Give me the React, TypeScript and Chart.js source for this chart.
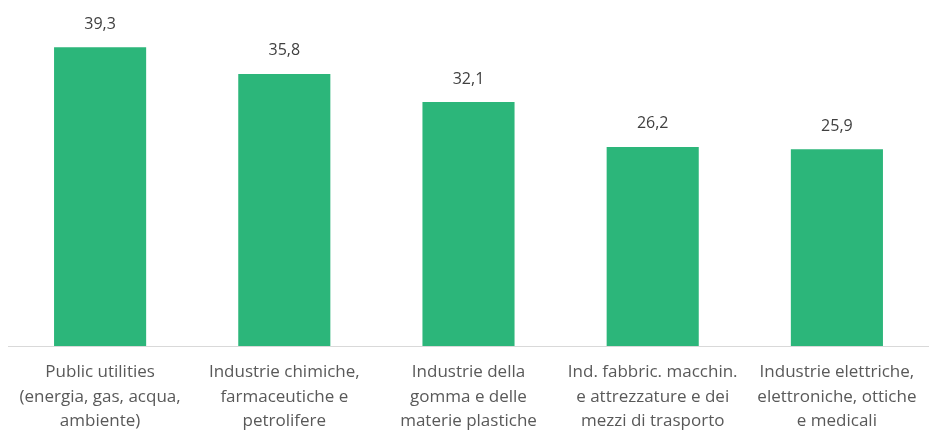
import React, { useEffect, useRef } from "react";
import { Chart, registerables } from "chart.js";

Chart.register(...registerables);

const categories: string[][] = [
  ["Public utilities", "(energia, gas, acqua,", "ambiente)"],
  ["Industrie chimiche,", "farmaceutiche e", "petrolifere"],
  ["Industrie della", "gomma e delle", "materie plastiche"],
  ["Ind. fabbric. macchin.", "e attrezzature e dei", "mezzi di trasporto"],
  ["Industrie elettriche,", "elettroniche, ottiche", "e medicali"],
];
const values: number[] = [39.3, 35.8, 32.1, 26.2, 25.9];

const FONT = "'Open Sans', 'DejaVu Sans', sans-serif";

const labelPlugin = {
  id: "barLabels",
  afterDatasetsDraw(chart: any) {
    const ctx = chart.ctx;
    const meta = chart.getDatasetMeta(0);
    ctx.save();
    ctx.font = `16px ${FONT}`;
    ctx.fillStyle = "#404040";
    ctx.textAlign = "center";
    ctx.textBaseline = "middle";
    meta.data.forEach((el: any, i: number) => {
      const txt = values[i].toFixed(1).replace(".", ",");
      ctx.fillText(txt, el.x, el.y - 23);
    });
    ctx.restore();
  },
};

export default function App() {
  const ref = useRef<HTMLCanvasElement | null>(null);
  useEffect(() => {
    document.body.style.margin = "0";
    const chart = new Chart(ref.current!, {
      type: "bar",
      data: {
        labels: categories,
        datasets: [
          {
            data: values,
            backgroundColor: "#2CB67A",
            categoryPercentage: 1,
            barPercentage: 0.5,
          },
        ],
      },
      options: {
        animation: false,
        responsive: false,
        maintainAspectRatio: false,
        layout: { padding: { left: 8, right: 0, top: 4, bottom: 0 } },
        plugins: { legend: { display: false }, tooltip: { enabled: false } },
        scales: {
          x: {
            grid: { display: false },
            border: { display: true, color: "#d9d9d9", width: 1 },
            ticks: {
              autoSkip: false,
              maxRotation: 0,
              minRotation: 0,
              color: "#595959",
              padding: 6,
              font: { family: FONT, size: 17, lineHeight: 1.44 },
            },
            afterFit: (scale: any) => {
              scale.height = 88;
            },
          },
          y: {
            display: false,
            min: 0,
            max: 45,
          },
        },
      },
      plugins: [labelPlugin],
    });
    return () => chart.destroy();
  }, []);
  return (
    <div style={{ position: "absolute", left: 0, top: 0, width: 929, height: 434, background: "#fff" }}>
      <canvas ref={ref} width={929} height={434} style={{ display: "block" }} />
    </div>
  );
}
